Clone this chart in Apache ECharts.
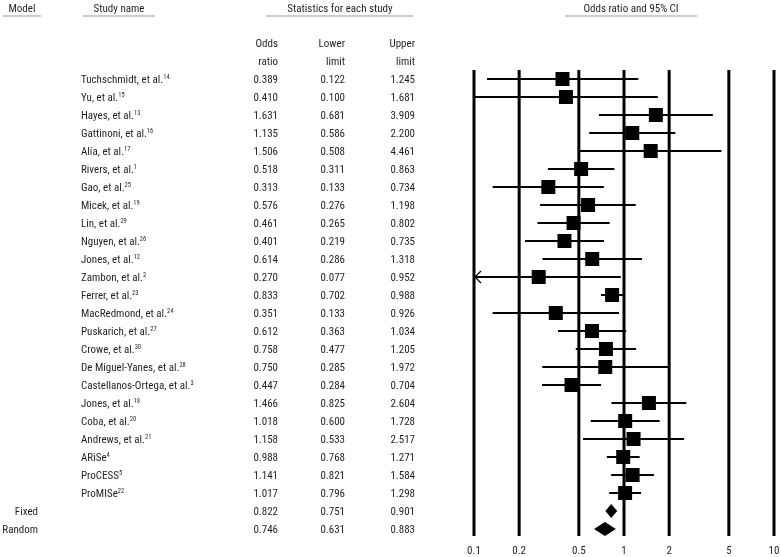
<!DOCTYPE html>
<html><head><meta charset="utf-8">
<script src="https://cdn.jsdelivr.net/npm/echarts@6/dist/echarts.min.js"></script>
<style>html,body{margin:0;padding:0;background:#fff}#c{width:781px;height:557px}</style>
</head><body><div id="c"></div>
<script>
const studyNames = ['Tuchschmidt, et al.','Yu, et al.','Hayes, et al.','Gattinoni, et al.','Alía, et al.','Rivers, et al.','Gao, et al.','Micek, et al.','Lin, et al.','Nguyen, et al.','Jones, et al.','Zambon, et al.','Ferrer, et al.','MacRedmond, et al.','Puskarich, et al.','Crowe, et al.','De Miguel-Yanes, et al.','Castellanos-Ortega, et al.','Jones, et al.','Coba, et al.','Andrews, et al.','ARiSe','ProCESS','ProMISe'];
const studyRefs = ['14','15','13','16','17','1','25','19','29','26','12','2','23','24','27','30','28','3','18','20','21','4','5','22'];
const oddsRatio  = [0.389,0.410,1.631,1.135,1.506,0.518,0.313,0.576,0.461,0.401,0.614,0.270,0.833,0.351,0.612,0.758,0.750,0.447,1.466,1.018,1.158,0.988,1.141,1.017];
const lowerLimit = [0.122,0.100,0.681,0.586,0.508,0.311,0.133,0.276,0.265,0.219,0.286,0.077,0.702,0.133,0.363,0.477,0.285,0.284,0.825,0.600,0.533,0.768,0.821,0.796];
const upperLimit = [1.245,1.681,3.909,2.200,4.461,0.863,0.734,1.198,0.802,0.735,1.318,0.952,0.988,0.926,1.034,1.205,1.972,0.704,2.604,1.728,2.517,1.271,1.584,1.298];
const modelNames = ['Fixed','Random'];
const modelOdds  = [0.822,0.746];
const modelLower = [0.751,0.631];
const modelUpper = [0.901,0.883];
const tickValues = [0.1,0.2,0.5,1,2,5,10];
const tickLabels = ['0.1','0.2','0.5','1','2','5','10'];

const FONT = "'Liberation Sans Narrow','Roboto Condensed','DejaVu Sans Condensed',sans-serif";
const TXT = '#231f20';
const FS = 11;
const nStudies = studyNames.length;
const rows = nStudies + modelNames.length;
const rowCats = Array.from({length: rows}, (_, i) => i);
const XMIN = tickValues[0], XMAX = tickValues[tickValues.length - 1];

const studyData = oddsRatio.map((v, i) => [v, i, lowerLimit[i], upperLimit[i]]);
const modelData = modelOdds.map((v, i) => [v, nStudies + i, modelLower[i], modelUpper[i]]);
const fmt = v => v.toFixed(3);

const chart = echarts.init(document.getElementById('c'), null, {renderer: 'canvas'});

function txt(x, y, text, align, size) {
  return {type: 'text', x: x, y: y, style: {text: text, align: align || 'left', verticalAlign: 'middle',
    fontSize: size || FS, fontFamily: FONT, fill: TXT}};
}

const option = {
  animation: false,
  backgroundColor: '#fff',
  grid: {left: 474, right: 7, top: 70, bottom: 19, containLabel: false},
  xAxis: {type: 'log', logBase: 10, min: XMIN, max: XMAX, show: false},
  yAxis: {type: 'category', data: rowCats, inverse: true, show: false},
  graphic: [
    txt(22, 9, 'Model', 'center'),
    {type: 'line', shape: {x1: 3, y1: 16, x2: 41, y2: 16}, style: {stroke: '#999', lineWidth: 1}},
    txt(119, 9, 'Study name', 'center'),
    {type: 'line', shape: {x1: 83, y1: 16, x2: 155, y2: 16}, style: {stroke: '#999', lineWidth: 1}},
    txt(340, 9, 'Statistics for each study', 'center'),
    {type: 'line', shape: {x1: 266, y1: 16, x2: 413, y2: 16}, style: {stroke: '#999', lineWidth: 1}},
    txt(631, 9, 'Odds ratio and 95% CI', 'center'),
    {type: 'line', shape: {x1: 565, y1: 16, x2: 697, y2: 16}, style: {stroke: '#999', lineWidth: 1}},
    txt(278, 44, 'Odds', 'right'), txt(278, 62, 'ratio', 'right'),
    txt(345, 44, 'Lower', 'right'), txt(345, 62, 'limit', 'right'),
    txt(415, 44, 'Upper', 'right'), txt(415, 62, 'limit', 'right')
  ],
  series: [
    {
      type: 'custom', name: 'grid lines', z: 1,
      data: tickValues.map((v, i) => [v, 0, i]),
      encode: {x: 0, y: 1},
      renderItem: function (params, api) {
        const cs = params.coordSys;
        const x = api.coord([api.value(0), 0])[0];
        const lbl = tickLabels[api.value(2)];
        return {type: 'group', children: [
          {type: 'line', shape: {x1: x, y1: cs.y, x2: x, y2: cs.y + cs.height - 2}, style: {stroke: '#000', lineWidth: 3}},
          {type: 'text', x: x, y: cs.y + cs.height + 13, style: {text: lbl, align: 'center', verticalAlign: 'middle', fontSize: FS, fontFamily: FONT, fill: TXT}}
        ]};
      }
    },
    {
      type: 'custom', name: 'studies', z: 3,
      data: studyData,
      encode: {x: 0, y: 1},
      renderItem: function (params, api) {
        const or = api.value(0), row = api.value(1), lo = api.value(2), hi = api.value(3);
        const c = api.coord([or, row]);
        const y = c[1];
        const x1 = api.coord([Math.max(lo, XMIN), row])[0];
        const x2 = api.coord([Math.min(hi, XMAX), row])[0];
        const ch = [
          {type: 'line', shape: {x1: x1, y1: y, x2: x2, y2: y}, style: {stroke: '#000', lineWidth: 2}},
          {type: 'rect', shape: {x: c[0] - 7, y: y - 7, width: 14, height: 14}, style: {fill: '#000'}}
        ];
        if (lo < XMIN) {
          ch.push({type: 'polyline', shape: {points: [[x1 + 7, y - 6], [x1 + 1, y], [x1 + 7, y + 6]]},
            style: {stroke: '#000', fill: null, lineWidth: 1.2}});
        }
        return {type: 'group', children: ch};
      }
    },
    {
      type: 'custom', name: 'models', z: 3,
      data: modelData,
      encode: {x: 0, y: 1},
      renderItem: function (params, api) {
        const or = api.value(0), row = api.value(1), lo = api.value(2), hi = api.value(3);
        const c = api.coord([or, row]);
        const y = c[1];
        const xl = api.coord([lo, row])[0], xh = api.coord([hi, row])[0];
        return {type: 'polygon', shape: {points: [[xl, y], [c[0], y - 7], [xh, y], [c[0], y + 7]]}, style: {fill: '#000'}};
      }
    },
    {
      type: 'custom', name: 'study table', z: 2,
      data: studyData,
      encode: {x: 0, y: 1},
      renderItem: function (params, api) {
        const i = params.dataIndex;
        const y = api.coord([1, api.value(1)])[1] + 1;
        return {type: 'group', children: [
          {type: 'text', x: 81, y: y, style: {
            text: '{n|' + studyNames[i] + '}{s|' + studyRefs[i] + '}', align: 'left', verticalAlign: 'middle',
            rich: {
              n: {fontSize: FS, fontFamily: FONT, fill: TXT, lineHeight: 13},
              s: {fontSize: 6.5, fontFamily: FONT, fill: TXT, lineHeight: 8, verticalAlign: 'top'}
            }}},
          txt(278, y, fmt(api.value(0)), 'right'),
          txt(345, y, fmt(api.value(2)), 'right'),
          txt(415, y, fmt(api.value(3)), 'right')
        ]};
      }
    },
    {
      type: 'custom', name: 'model table', z: 2,
      data: modelData,
      encode: {x: 0, y: 1},
      renderItem: function (params, api) {
        const i = params.dataIndex;
        const y = api.coord([1, api.value(1)])[1] + 1;
        return {type: 'group', children: [
          txt(38, y, modelNames[i], 'right'),
          txt(278, y, fmt(api.value(0)), 'right'),
          txt(345, y, fmt(api.value(2)), 'right'),
          txt(415, y, fmt(api.value(3)), 'right')
        ]};
      }
    }
  ]
};
chart.setOption(option);
</script></body></html>
